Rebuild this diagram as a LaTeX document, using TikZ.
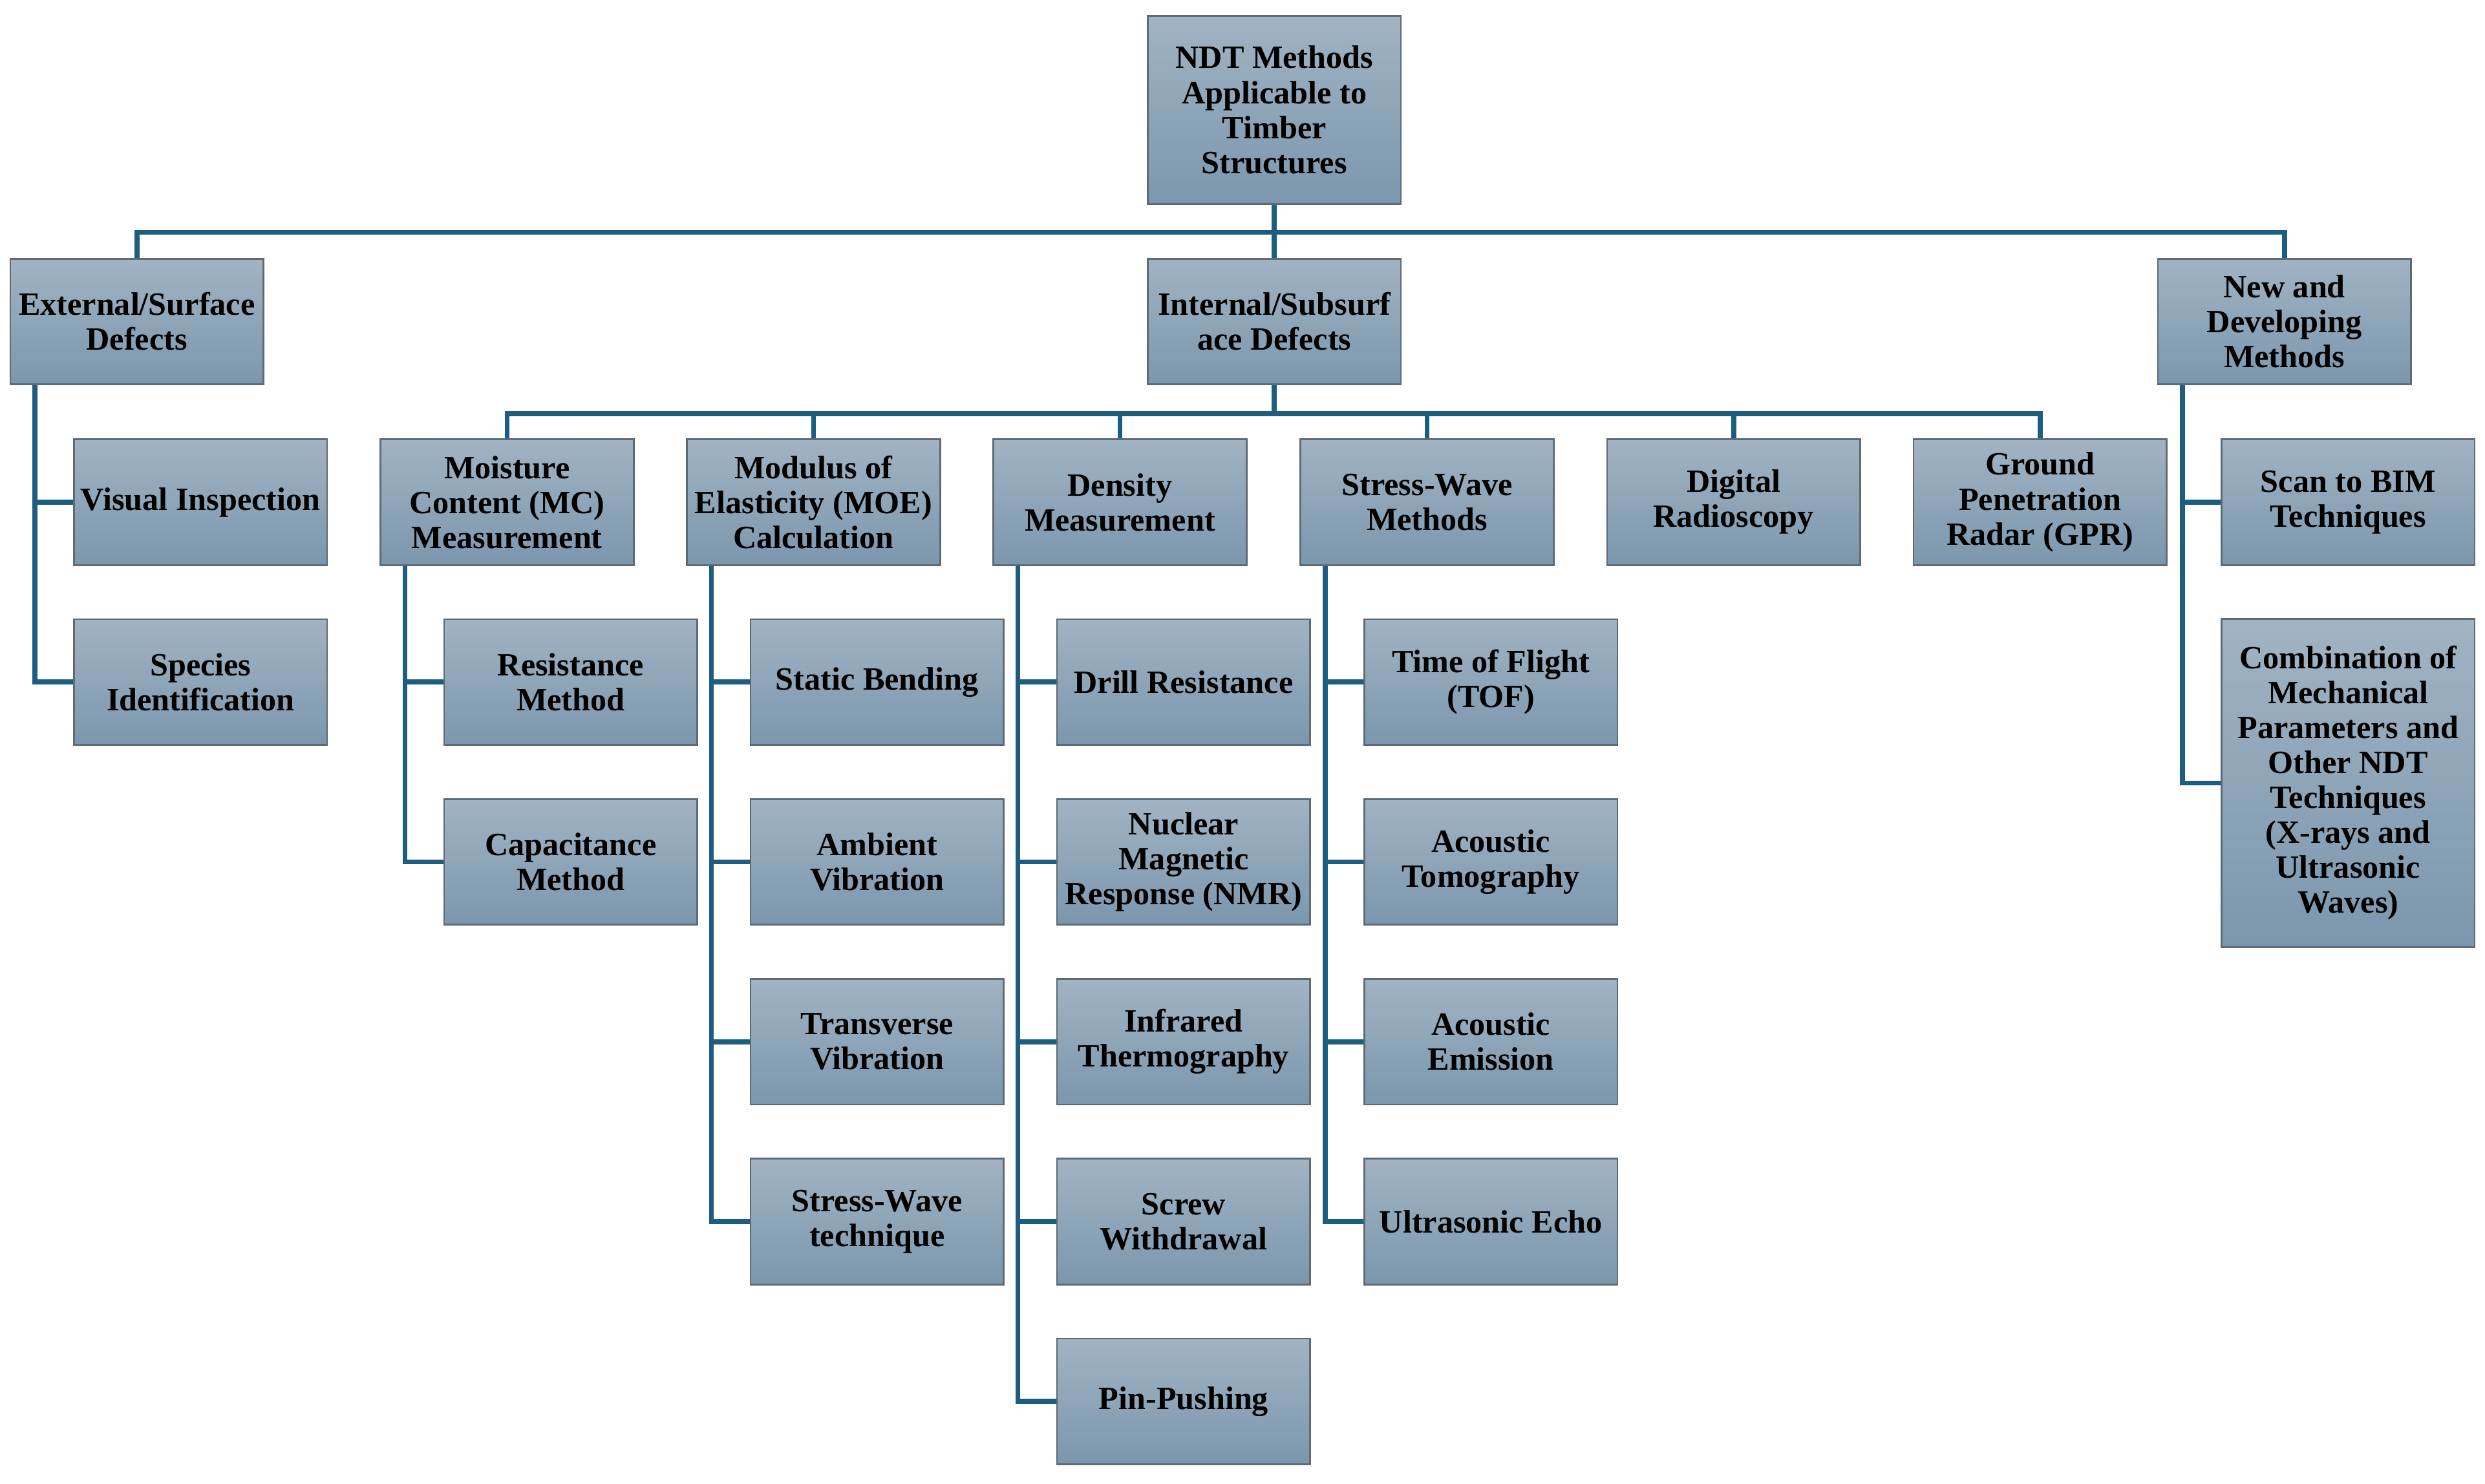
\documentclass[tikz,border=0pt]{standalone}
\usepackage{fontspec}
\setmainfont{Liberation Serif}
\definecolor{boxtop}{HTML}{A2B3C3}
\definecolor{boxbot}{HTML}{7B97AD}
\definecolor{boxline}{HTML}{5E6A74}
\definecolor{linkcol}{HTML}{1D5E80}
\begin{document}
\begin{tikzpicture} [x=0.025cm,y=-0.025cm,
		box/.style={draw=boxline,line width=0.8pt,top color=boxtop,bottom color=boxbot,
			minimum width=3.975cm,minimum height=1.975cm,inner sep=1pt,align=center,
			font=\bfseries\fontsize{14.5}{15.6}\selectfont},
		link/.style={draw=linkcol,line width=2.2pt}]
		\useasboundingbox (0,0) rectangle (1561,932);
		\node [box,minimum height=2.95cm] (ndt) at (800.5,69) {NDT Methods\\Applicable to\\Timber\\Structures};
		\node [box] (ext) at (86,202) {External/Surface\\Defects};
		\node [box] (int) at (800.5,202) {Internal/Subsurf\\ace Defects};
		\node [box] (new) at (1435,202) {New and\\Developing\\Methods};
		\node [box] (mc) at (318.5,315.5) {Moisture\\Content (MC)\\Measurement};
		\node [box] (moe) at (511,315.5) {Modulus of\\Elasticity (MOE)\\Calculation};
		\node [box] (den) at (703.5,315.5) {Density\\Measurement};
		\node [box] (sw) at (896.5,315.5) {Stress-Wave\\Methods};
		\node [box] (dr) at (1089,315.5) {Digital\\Radioscopy};
		\node [box] (gpr) at (1281.5,315.5) {Ground\\Penetration\\Radar (GPR)};
		\node [box] (vis) at (126,315.5) {Visual Inspection};
		\node [box] (spec) at (126,428.5) {Species\\Identification};
		\node [box] (bim) at (1475,315.5) {Scan to BIM\\Techniques};
		\node [box,minimum height=5.15cm] (comb) at (1475,492) {Combination of\\Mechanical\\Parameters and\\Other NDT\\Techniques\\(X-rays and\\Ultrasonic\\Waves)};
		\node [box] (res) at (358.5,428.5) {Resistance\\Method};
		\node [box] (cap) at (358.5,541.5) {Capacitance\\Method};
		\node [box] (stb) at (551,428.5) {Static Bending};
		\node [box] (amb) at (551,541.5) {Ambient\\Vibration};
		\node [box] (trv) at (551,654.5) {Transverse\\Vibration};
		\node [box] (swt) at (551,767.5) {Stress-Wave\\technique};
		\node [box] (drl) at (743.5,428.5) {Drill Resistance};
		\node [box] (nmr) at (743.5,541.5) {Nuclear\\Magnetic\\Response (NMR)};
		\node [box] (irt) at (743.5,654.5) {Infrared\\Thermography};
		\node [box] (scr) at (743.5,767.5) {Screw\\Withdrawal};
		\node [box] (pin) at (743.5,880.5) {Pin-Pushing};
		\node [box] (tof) at (936.5,428.5) {Time of Flight\\(TOF)};
		\node [box] (act) at (936.5,541.5) {Acoustic\\Tomography};
		\node [box] (ace) at (936.5,654.5) {Acoustic\\Emission};
		\node [box] (ue) at (936.5,767.5) {Ultrasonic Echo};
		\coordinate (bus1) at (800.5,146);
		\coordinate (bus2) at (800.5,260);
		\draw [link] (ndt.south) -- (int.north);
		\draw [link] (ext.north) |- (bus1) -| (new.north);
		\draw [link] (int.south) -- (bus2);
		\foreach \n in {mc,moe,den,sw,dr,gpr}
			\draw [link] (bus2) -| (\n.north);
		\foreach \p/\c in {ext/vis,ext/spec,new/bim,new/comb,mc/res,mc/cap,
				moe/stb,moe/amb,moe/trv,moe/swt,den/drl,den/nmr,den/irt,den/scr,den/pin,
				sw/tof,sw/act,sw/ace,sw/ue}
			\draw [link] ([xshift=0.4cm]\p.south west) |- (\c.west);
	\end{tikzpicture}
\end{document}
